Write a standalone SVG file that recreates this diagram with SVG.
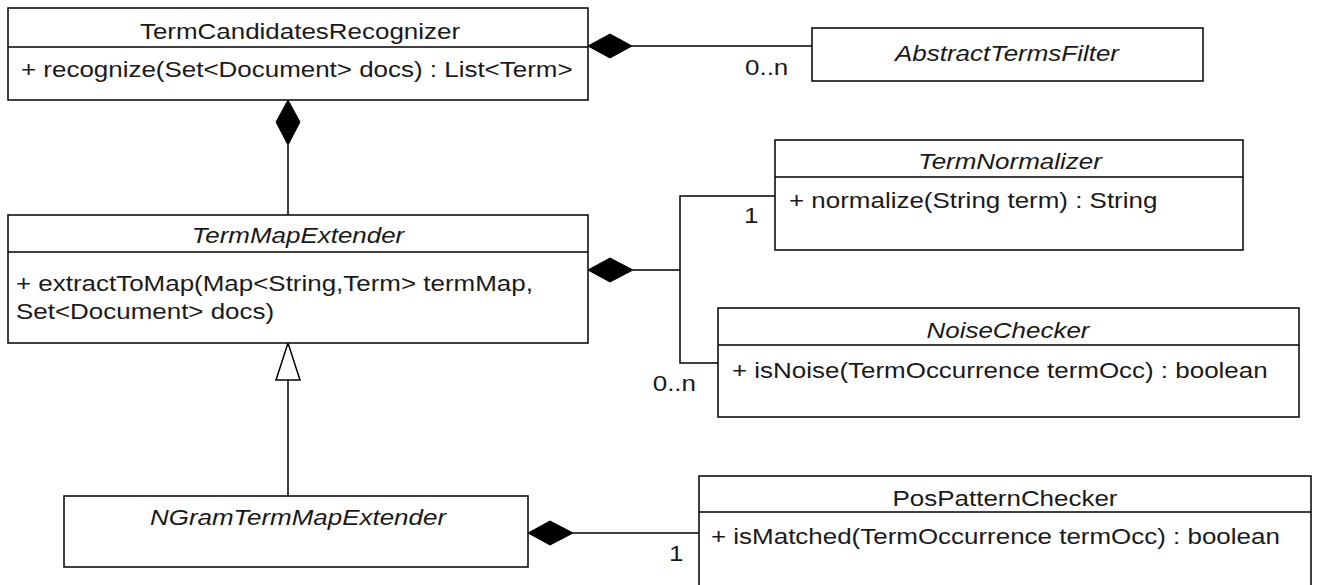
<svg xmlns="http://www.w3.org/2000/svg" width="1322" height="585" viewBox="0 0 1322 585">
<style>
.box{fill:#fff;stroke:#000;stroke-width:1.5}
.ln{stroke:#000;stroke-width:1.5;fill:none}
.t{font-family:"Liberation Sans",Arial,sans-serif;font-size:22px;fill:#1a1a1a}
.i{font-style:italic}
.c{text-anchor:middle}
.e{text-anchor:end}
.dia{fill:#000;stroke:#000;stroke-width:1}
.tri{fill:#fff;stroke:#000;stroke-width:1.5}
</style>
<rect width="1322" height="585" fill="#fff"/>
<g id="connectors">
<line class="ln" x1="632" y1="46" x2="812" y2="46"/>
<polygon class="dia" points="588,46 610,34 632,46 610,58"/>
<text class="t" transform="matrix(1.18,0,0,1,745,75)">0..n</text>
<line class="ln" x1="288" y1="145" x2="288" y2="215"/>
<polygon class="dia" points="288,100 300,122 288,145 276,122"/>
<polyline class="ln" points="633,270 680,270"/>
<polyline class="ln" points="775,196 680,196 680,363 718,363"/>
<polygon class="dia" points="588,270 610,258 633,270 610,282"/>
<text class="t" transform="matrix(1.18,0,0,1,744,223)">1</text>
<text class="t e" transform="matrix(1.18,0,0,1,696,391)">0..n</text>
<line class="ln" x1="288" y1="380" x2="288" y2="496"/>
<polygon class="tri" points="288,343 300,380 276,380"/>
<line class="ln" x1="573" y1="533" x2="699" y2="533"/>
<polygon class="dia" points="528,533 550,521 573,533 550,545"/>
<text class="t" transform="matrix(1.18,0,0,1,669,561)">1</text>
</g>
<g id="TermCandidatesRecognizer">
<rect class="box" x="8" y="8" width="580" height="92"/>
<line class="ln" x1="8" y1="47" x2="588" y2="47"/>
<text class="t c" transform="matrix(1.18,0,0,1,300,39)">TermCandidatesRecognizer</text>
<text class="t" transform="matrix(1.18,0,0,1,21,77)">+ recognize(Set&lt;Document&gt; docs) : List&lt;Term&gt;</text>
</g>
<g id="AbstractTermsFilter">
<rect class="box" x="812" y="28" width="391" height="53"/>
<text class="t i c" transform="matrix(1.18,0,0,1,1007,61)">AbstractTermsFilter</text>
</g>
<g id="TermMapExtender">
<rect class="box" x="8" y="215" width="580" height="128"/>
<line class="ln" x1="8" y1="252" x2="588" y2="252"/>
<text class="t i c" transform="matrix(1.18,0,0,1,298,243)">TermMapExtender</text>
<text class="t" transform="matrix(1.18,0,0,1,16,291)">+ extractToMap(Map&lt;String,Term&gt; termMap,</text>
<text class="t" transform="matrix(1.18,0,0,1,16,319)">Set&lt;Document&gt; docs)</text>
</g>
<g id="TermNormalizer">
<rect class="box" x="775" y="140" width="468" height="110"/>
<line class="ln" x1="775" y1="177" x2="1243" y2="177"/>
<text class="t i c" transform="matrix(1.18,0,0,1,1010,169)">TermNormalizer</text>
<text class="t" transform="matrix(1.18,0,0,1,789,208)">+ normalize(String term) : String</text>
</g>
<g id="NoiseChecker">
<rect class="box" x="718" y="308" width="581" height="109"/>
<line class="ln" x1="718" y1="345" x2="1299" y2="345"/>
<text class="t i c" transform="matrix(1.18,0,0,1,1008,338)">NoiseChecker</text>
<text class="t" transform="matrix(1.18,0,0,1,732,378)">+ isNoise(TermOccurrence termOcc) : boolean</text>
</g>
<g id="NGramTermMapExtender">
<rect class="box" x="64" y="496" width="464" height="71"/>
<text class="t i c" transform="matrix(1.18,0,0,1,298,525)">NGramTermMapExtender</text>
</g>
<g id="PosPatternChecker">
<rect class="box" x="699" y="476" width="612" height="120"/>
<line class="ln" x1="699" y1="512" x2="1311" y2="512"/>
<text class="t c" transform="matrix(1.18,0,0,1,1005,506)">PosPatternChecker</text>
<text class="t" transform="matrix(1.18,0,0,1,711,544)">+ isMatched(TermOccurrence termOcc) : boolean</text>
</g>
</svg>
